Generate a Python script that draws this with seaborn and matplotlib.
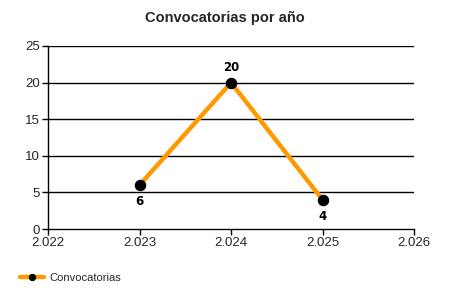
import matplotlib
matplotlib.use("Agg")
import matplotlib.pyplot as plt
import seaborn as sns
import pandas as pd

years = [2023, 2024, 2025]
counts = [6, 20, 4]
series_name = "Convocatorias"
title = "Convocatorias por año"
x_ticks = [2022, 2023, 2024, 2025, 2026]
x_tick_labels = ["2.022", "2.023", "2.024", "2.025", "2.026"]
y_ticks = [0, 5, 10, 15, 20, 25]

df = pd.DataFrame({"year": years, "count": counts})

sns.set_style("white")
plt.rcParams["font.family"] = ["Liberation Sans", "DejaVu Sans"]

fig = plt.figure(figsize=(4.5, 3.0), dpi=100)
ax = fig.add_axes([48/450, 71/300, (414-48)/450, (229-46)/300])

for y in y_ticks[1:]:
    ax.axhline(y, color="black", lw=1.0, zorder=1)

sns.lineplot(data=df, x="year", y="count", ax=ax, color="#FF9900", lw=3.2,
             marker="o", markersize=7.5, markerfacecolor="black",
             markeredgecolor="black", label=series_name, zorder=3)

offsets = [-12, 11, -12]
for x, y, off in zip(years, counts, offsets):
    ax.annotate(str(y), (x, y), xytext=(0, off), textcoords="offset points",
                ha="center", va="center", fontsize=8.5, fontweight="bold",
                family="DejaVu Sans", color="black")

ax.set_xlim(2022, 2026)
ax.set_ylim(0, 25)
ax.set_xticks(x_ticks)
ax.set_xticklabels(x_tick_labels)
ax.set_yticks(y_ticks)
ax.tick_params(axis="both", length=4, width=1, color="black", labelsize=9.5,
               pad=2, direction="out", left=True, bottom=True)
ax.set_xlabel("")
ax.set_ylabel("")
for s in ["top", "right"]:
    ax.spines[s].set_visible(False)
for s in ["left", "bottom"]:
    ax.spines[s].set_color("black")
    ax.spines[s].set_linewidth(1.0)

fig.suptitle(title, x=0.5, y=1 - 18/300, va="center", fontsize=10.5, fontweight="bold")

leg = ax.legend(loc="center left", bbox_to_anchor=(20/450, 22/300), bbox_transform=fig.transFigure,
                frameon=False, fontsize=8, handlelength=2.2, handletextpad=0.4,
                markerscale=0.6, borderaxespad=0, borderpad=0)

fig.savefig("out.png", dpi=100)
